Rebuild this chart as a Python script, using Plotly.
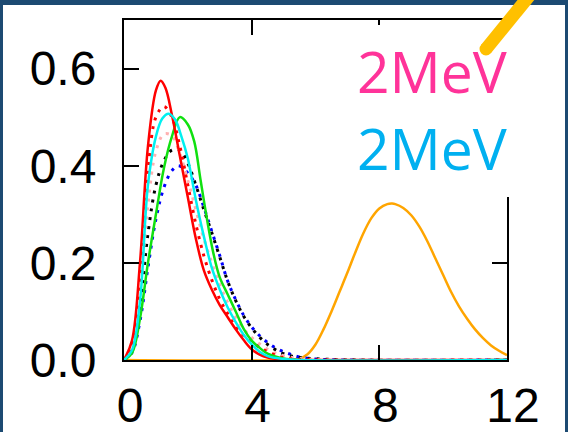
import plotly.graph_objects as go

# Spectra (probability density vs energy), one list pair per curve
red_x = [0, 0.25, 0.5, 0.75, 1.0, 1.15, 1.3, 1.5, 1.75, 2.0, 2.25, 2.5, 2.75, 3.0,
         3.25, 3.5, 3.75, 4.0, 4.25, 4.5, 5.0, 6.0, 12]
red_y = [0, 0.04, 0.20, 0.44, 0.555, 0.575, 0.56, 0.505, 0.42, 0.335, 0.25, 0.185, 0.145,
         0.113, 0.088, 0.063, 0.041, 0.022, 0.011, 0.005, 0.001, 0, 0]

cyan_x = [0, 0.25, 0.5, 0.75, 1.0, 1.2, 1.4, 1.6, 1.8, 2.0, 2.25, 2.5, 2.75, 3.0,
          3.25, 3.5, 3.75, 4.0, 4.25, 4.5, 5.0, 5.5, 12]
cyan_y = [0, 0.02, 0.12, 0.36, 0.46, 0.497, 0.507, 0.495, 0.46, 0.415, 0.33, 0.255, 0.19,
          0.145, 0.108, 0.078, 0.052, 0.032, 0.017, 0.008, 0.002, 0, 0]

green_x = [0, 0.25, 0.5, 0.75, 1.0, 1.25, 1.5, 1.75, 2.0, 2.2, 2.4, 2.6, 2.8, 3.0,
           3.25, 3.5, 3.75, 4.0, 4.25, 4.5, 5.0, 5.5, 12]
green_y = [0, 0.014, 0.085, 0.20, 0.30, 0.395, 0.46, 0.50, 0.485, 0.45, 0.37, 0.29, 0.22,
           0.17, 0.135, 0.10, 0.064, 0.04, 0.025, 0.013, 0.003, 0, 0]

dot_x = [0, 0.25, 0.5, 0.75, 1.0, 1.25, 1.5, 1.75, 2.0, 2.25, 2.5, 2.75, 3.0,
         3.25, 3.5, 3.75, 4.0, 4.25, 4.5, 4.75, 5.0, 5.5, 12]
red_dot_y = [0, 0.03, 0.17, 0.39, 0.50, 0.522, 0.50, 0.44, 0.36, 0.28, 0.215, 0.165, 0.125,
             0.095, 0.068, 0.05, 0.037, 0.026, 0.017, 0.01, 0.005, 0.001, 0]
pink_dot_y = [0, 0.025, 0.14, 0.32, 0.43, 0.465, 0.462, 0.425, 0.37, 0.31, 0.25, 0.2, 0.155,
              0.118, 0.088, 0.064, 0.046, 0.033, 0.022, 0.014, 0.009, 0.003, 0]
black_dot_y = [0, 0.02, 0.11, 0.26, 0.36, 0.41, 0.432, 0.432, 0.405, 0.36, 0.31, 0.262, 0.212,
               0.162, 0.122, 0.09, 0.066, 0.047, 0.032, 0.021, 0.013, 0.005, 0]

blue_x = [0, 0.25, 0.5, 0.75, 1.0, 1.25, 1.5, 1.7, 2.0, 2.25, 2.5, 2.75, 3.0, 3.25,
          3.5, 3.75, 4.0, 4.25, 4.5, 4.75, 5.0, 5.25, 5.5, 6.0, 7.0, 12]
blue_y = [0, 0.015, 0.08, 0.19, 0.29, 0.355, 0.39, 0.40, 0.385, 0.36, 0.315, 0.265, 0.215,
          0.162, 0.124, 0.092, 0.068, 0.05, 0.036, 0.025, 0.017, 0.011, 0.006, 0.002, 0, 0]

orange_x = [0, 5.0, 5.5, 5.75, 6.0, 6.25, 6.5, 6.75, 7.0, 7.25, 7.5, 7.75, 8.0, 8.25, 8.4,
            8.5, 8.75, 9.0, 9.25, 9.5, 9.75, 10.0, 10.25, 10.5, 10.75, 11.0, 11.25, 11.5,
            11.75, 12.0]
orange_y = [0, 0, 0.003, 0.012, 0.032, 0.063, 0.10, 0.14, 0.18, 0.222, 0.261, 0.292, 0.312,
            0.321, 0.322, 0.321, 0.313, 0.298, 0.275, 0.245, 0.21, 0.175, 0.14, 0.11, 0.085,
            0.063, 0.045, 0.03, 0.019, 0.01]

x_ticks = [0, 4, 8, 12]
y_ticks = [0, 0.2, 0.4, 0.6]
y_tick_text = ["0.0", "0.2", "0.4", "0.6"]
labels = ["2MeV", "2MeV"]

W, H = 568, 432
L, R, T, B = 124, 507, 20, 360  # plot area in pixels


def px(x):
    return (x - L) / (R - L)


def py(y):
    return (B - y) / (B - T)


DOT = "3px,6px"
series = [
    (orange_x, orange_y, "#FFA500", "solid", 2.5),
    (blue_x, blue_y, "#0000FF", DOT, 3),
    (dot_x, black_dot_y, "#000000", DOT, 3),
    (dot_x, pink_dot_y, "#FFB0B0", DOT, 3),
    (dot_x, red_dot_y, "#FF0000", DOT, 3),
    (green_x, green_y, "#10E010", "solid", 2.5),
    (red_x, red_y, "#FF0000", "solid", 2.5),
    (cyan_x, cyan_y, "#00F0F0", "solid", 2.5),
]

fig = go.Figure()
for xs, ys, color, dash, w in series:
    fig.add_trace(go.Scatter(x=xs, y=ys, mode="lines",
                             line=dict(color=color, dash=dash, width=w, shape="spline"),
                             showlegend=False, hoverinfo="skip"))

tick_font = dict(family="Liberation Sans, Arial", size=48, color="black")
axis_common = dict(showline=True, linecolor="black", linewidth=2, mirror="ticks",
                   ticks="inside", ticklen=15, tickwidth=2, tickcolor="black",
                   showgrid=False, zeroline=False, tickfont=tick_font, automargin=False)

fig.update_xaxes(range=[0, 12], tickvals=x_ticks, ticklabelstandoff=2,
                 ticklabelshift=6, **axis_common)
fig.update_yaxes(range=[0, 0.7], tickvals=y_ticks, ticktext=y_tick_text,
                 ticklabelstandoff=16, **axis_common)

shapes = [
    # white slide panel inside the dark frame
    dict(type="rect", xref="paper", yref="paper", layer="below",
         x0=px(3), x1=px(565), y0=py(440), y1=py(5),
         fillcolor="white", line=dict(width=0)),
    # white backing behind the energy labels
    dict(type="rect", xref="paper", yref="paper", layer="above",
         x0=px(355), x1=px(520), y0=py(197), y1=py(25),
         fillcolor="white", line=dict(width=0)),
    # yellow pointer stroke with rounded end
    dict(type="line", xref="paper", yref="paper", layer="above",
         x0=px(486), y0=py(49), x1=px(534), y1=py(-10),
         line=dict(color="#FFC000", width=13)),
    dict(type="circle", xref="paper", yref="paper", layer="above",
         x0=px(479.5), x1=px(492.5), y0=py(55.5), y1=py(42.5),
         fillcolor="#FFC000", line=dict(width=0)),
]

annotations = [
    dict(text=labels[0], xref="paper", yref="paper", x=px(431.5), y=py(71),
         xanchor="center", yanchor="middle", showarrow=False,
         font=dict(family="Open Sans", size=57, color="#FF3399")),
    dict(text=labels[1], xref="paper", yref="paper", x=px(431.5), y=py(147.5),
         xanchor="center", yanchor="middle", showarrow=False,
         font=dict(family="Open Sans", size=57, color="#00B0F0")),
]

fig.update_layout(width=W, height=H, margin=dict(l=L, r=W - R, t=T, b=H - B),
                  paper_bgcolor="#1c4a72", plot_bgcolor="white",
                  shapes=shapes, annotations=annotations, showlegend=False)

fig.write_html("out.html")
